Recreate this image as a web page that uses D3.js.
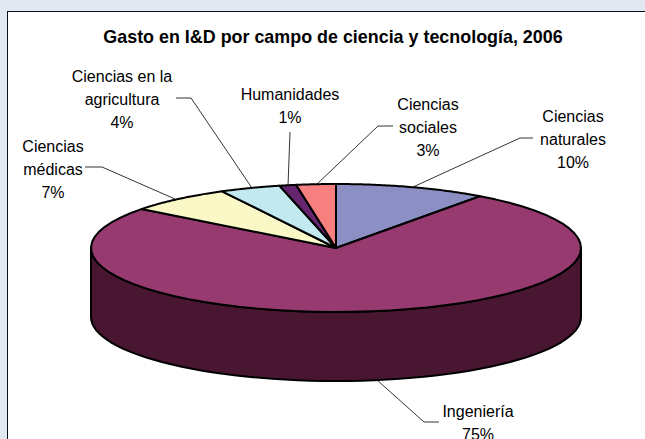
<!DOCTYPE html>
<html><head><meta charset="utf-8">
<script src="https://cdnjs.cloudflare.com/ajax/libs/d3/7.8.5/d3.min.js"></script>
<style>html,body{margin:0;padding:0;background:#e1e8f1;overflow:hidden}
svg{display:block}text{font-family:"Liberation Sans",Arial,sans-serif;fill:#000}</style>
</head><body><svg width="645" height="439"></svg>
<script>
const title = "Gasto en I&D por campo de ciencia y tecnología, 2006";
const categories = ["Ciencias naturales","Ingeniería","Ciencias médicas","Ciencias en la agricultura","Humanidades","Ciencias sociales"];
const values = [10, 75.4, 6.9, 4, 1.1, 2.6];
const colors = ["#8b8fc4","#963a70","#fbf8c8","#c2e8f0","#66256f","#f68080"];
const labelLines = [["Ciencias","naturales"],["Ingeniería"],["Ciencias","médicas"],["Ciencias en la","agricultura"],["Humanidades"],["Ciencias","sociales"]];
const labelAnchors = [[573,122],[478,417],[53,152],[122,82],[290,100],[428,110]];
const leaders = [[[413,187],[520,138],[533,138]],[[377,380],[424,422],[439,422]],[[175,199],[102,167],[85,167]],[[252,188],[191,98],[176,98]],[[288,186],[290,132]],[[316,185],[378,126],[393,126]]];

const svg = d3.select("svg");
svg.append("rect").attr("x",7.5).attr("y",11.5).attr("width",660).attr("height",460).attr("fill","#fff").attr("stroke","#0a0f1e").attr("stroke-width",1);
svg.append("text").attr("x",333).attr("y",43).attr("text-anchor","middle").attr("font-weight","bold").attr("font-size",17.9).text(title);

const cx=336, cy=248, rx=245, ry=64, depth=69;
const sx=d3.scaleLinear().domain([-1,1]).range([cx-rx,cx+rx]);
const sy=d3.scaleLinear().domain([-1,1]).range([cy+ry,cy-ry]);
const pt=(a,dz=0)=>[sx(Math.sin(a)),sy(Math.cos(a))+dz];
const line=d3.line();
const arcs=d3.pie().sort(null).value(d=>d)(values);
const samples=(a0,a1)=>d3.range(0,61).map(i=>a0+(a1-a0)*i/60);

const wall=samples(Math.PI/2,Math.PI*1.5);
const wallPts=wall.map(a=>pt(a)).concat(wall.slice().reverse().map(a=>pt(a,depth)));
svg.append("path").attr("d",line(wallPts)+"Z").attr("fill","#491632").attr("stroke","#000").attr("stroke-width",2).attr("stroke-linejoin","round");

svg.append("g").selectAll("path").data(arcs).join("path")
 .attr("d",d=>line([[cx,cy],...samples(d.startAngle,d.endAngle).map(a=>pt(a))])+"Z")
 .attr("fill",(d,i)=>colors[i]).attr("stroke","#000").attr("stroke-width",2).attr("stroke-linejoin","round");

svg.append("g").selectAll("path").data(leaders).join("path")
 .attr("d",d=>line(d)).attr("fill","none").attr("stroke","#000").attr("stroke-width",0.8);

const lab=svg.append("g").selectAll("text").data(categories).join("text")
 .attr("text-anchor","middle").attr("font-size",16)
 .attr("transform",(d,i)=>`translate(${labelAnchors[i]})`);
lab.each(function(d,i){
  const t=d3.select(this);
  labelLines[i].concat(Math.round(values[i])+"%").forEach((s,k)=>t.append("tspan").attr("x",0).attr("y",k*23).text(s));
});
</script></body></html>
